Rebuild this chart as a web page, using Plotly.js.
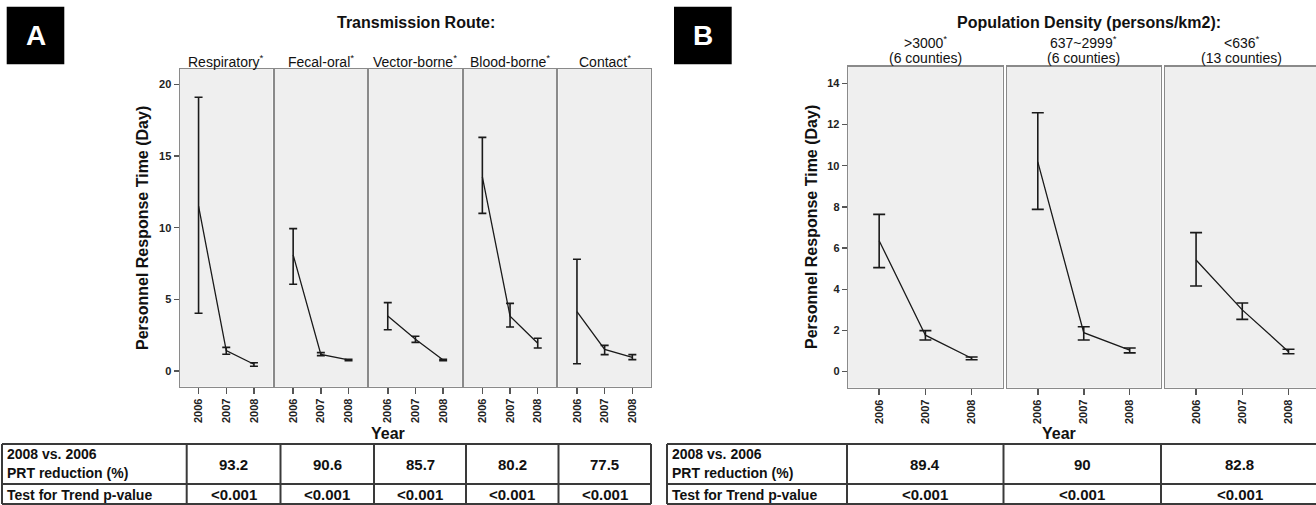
<!DOCTYPE html>
<html>
<head>
<meta charset="utf-8">
<script src="https://cdn.plot.ly/plotly-3.0.1.min.js"></script>
<style>html,body{margin:0;padding:0;background:#fff;overflow:hidden;}#chart{width:1316px;height:505px;}</style>
</head>
<body>
<div id="chart"></div>
<script>
// ---------------- DATA ----------------
const years = ['2006', '2007', '2008'];

// Panel A: transmission route
const routeNames = ['Respiratory', 'Fecal-oral', 'Vector-borne', 'Blood-borne', 'Contact'];
const routeMean  = [[11.5, 1.42, 0.47], [8.1, 1.16, 0.77], [3.83, 2.21, 0.77], [13.55, 3.83, 1.93], [4.14, 1.5, 0.95]];
const routeUpper = [[19.1, 1.65, 0.58], [9.93, 1.28, 0.82], [4.77, 2.42, 0.82], [16.3, 4.72, 2.28], [7.8, 1.79, 1.14]];
const routeLower = [[4.03, 1.17, 0.33], [6.05, 1.07, 0.72], [2.88, 2.0, 0.72], [11.0, 3.07, 1.6], [0.51, 1.14, 0.79]];
const routeReduction = ['93.2', '90.6', '85.7', '80.2', '77.5'];
const routeP = ['<0.001', '<0.001', '<0.001', '<0.001', '<0.001'];
const routeYTicks = [0, 5, 10, 15, 20];

// Panel B: population density
const densityNames = ['>3000', '637~2999', '<636'];
const densityCounties = ['(6 counties)', '(6 counties)', '(13 counties)'];
const densityMean  = [[6.36, 1.77, 0.65], [10.19, 1.89, 1.05], [5.42, 3.0, 0.97]];
const densityUpper = [[7.64, 1.99, 0.71], [12.57, 2.18, 1.15], [6.75, 3.33, 1.09]];
const densityLower = [[5.05, 1.54, 0.58], [7.88, 1.54, 0.91], [4.16, 2.54, 0.87]];
const densityReduction = ['89.4', '90', '82.8'];
const densityP = ['<0.001', '<0.001', '<0.001'];
const densityYTicks = [0, 2, 4, 6, 8, 10, 12, 14];

const rowLabel1a = '2008 vs. 2006';
const rowLabel1b = 'PRT reduction (%)';
const rowLabel2 = 'Test for Trend p-value';
const yTitle = 'Personnel Response Time (Day)';
const xTitle = 'Year';
const titleA = 'Transmission Route:';
const titleB = 'Population Density (persons/km2):';

// ---------------- LAYOUT HELPERS ----------------
const W = 1316, H = 505;
const px = x => x / W;
const py = y => 1 - y / H;
const esc = s => s.replace(/&/g, '&amp;').replace(/</g, '&lt;').replace(/>/g, '&gt;');
const FONT = 'Liberation Sans, Arial, sans-serif';
const LINE = '#8a8a8a';
const TABLE = '#3a3a3a';

const data = [];
const layout = {
  width: W, height: H,
  margin: {l: 0, r: 0, t: 0, b: 0},
  paper_bgcolor: '#ffffff',
  plot_bgcolor: '#efefef',
  showlegend: false,
  font: {family: FONT, color: '#111'},
  shapes: [], annotations: []
};

function addPanel(idx, xl, xr, yt, yb, yrange, xrange, yticks, showY, mean, up, lo, capW) {
  const xn = idx === 1 ? 'xaxis' : 'xaxis' + idx;
  const yn = idx === 1 ? 'yaxis' : 'yaxis' + idx;
  const xr_ = idx === 1 ? 'x' : 'x' + idx;
  const yr_ = idx === 1 ? 'y' : 'y' + idx;
  layout[xn] = {
    domain: [px(xl), px(xr)], anchor: yr_, type: 'category', range: xrange,
    showline: true, mirror: true, linecolor: LINE, linewidth: 1.5,
    showgrid: false, zeroline: false,
    ticks: 'outside', ticklen: 6, tickwidth: 1.5, tickcolor: '#555',
    tickangle: -90, tickfont: {family: FONT, size: 11, weight: 'bold', color: '#222'},
    tickvals: years, ticktext: years
  };
  layout[yn] = {
    domain: [py(yb), py(yt)], anchor: xr_, range: yrange,
    showline: true, mirror: true, linecolor: LINE, linewidth: 1.5,
    showgrid: false, zeroline: false,
    tickvals: yticks, ticktext: yticks.map(String),
    ticks: showY ? 'outside' : '', ticklen: 5, tickwidth: 1.5, tickcolor: '#555',
    showticklabels: showY,
    tickfont: {family: FONT, size: 11, weight: 'bold', color: '#222'}
  };
  data.push({
    type: 'scatter', mode: 'lines', x: years, y: mean, xaxis: xr_, yaxis: yr_,
    line: {color: '#1a1a1a', width: 1.3},
    error_y: {
      type: 'data', symmetric: false,
      array: mean.map((m, i) => up[i] - m),
      arrayminus: mean.map((m, i) => m - lo[i]),
      color: '#1a1a1a', thickness: 1.6, width: capW
    },
    hoverinfo: 'skip'
  });
}

// Panel A subplots
const aLeft = [180, 274.6, 369.2, 463.8, 558.4];
const aW = 92.5;
routeNames.forEach((n, i) => {
  addPanel(i + 1, aLeft[i], aLeft[i] + aW, 69, 386.7, [-1.096, 21.07], [-0.67, 2.67], routeYTicks, i === 0,
    routeMean[i], routeUpper[i], routeLower[i], 4);
  layout.annotations.push({xref: 'paper', yref: 'paper', x: px(aLeft[i] + aW / 2), y: py(61),
    text: esc(n) + '<sup>*</sup>', showarrow: false, xanchor: 'center', yanchor: 'middle',
    font: {family: FONT, size: 14, color: '#111'}});
});

// Panel B subplots
const bLeft = [848.2, 1007, 1165.1];
const bRight = [1002.6, 1160.5, 1316];
densityNames.forEach((n, i) => {
  const xrange = i === 2 ? [-0.67, 2.595] : [-0.67, 2.67];
  addPanel(6 + i, bLeft[i], bRight[i], 66.7, 387.7, [-0.78, 14.81], xrange, densityYTicks, i === 0,
    densityMean[i], densityUpper[i], densityLower[i], 6);
  const cx = i === 2 ? 1241.5 : (bLeft[i] + bRight[i]) / 2;
  layout.annotations.push({xref: 'paper', yref: 'paper', x: px(cx), y: py(42),
    text: esc(n) + '<sup>*</sup>', showarrow: false, xanchor: 'center', yanchor: 'middle',
    font: {family: FONT, size: 14, color: '#111'}});
  layout.annotations.push({xref: 'paper', yref: 'paper', x: px(cx), y: py(58.5),
    text: densityCounties[i], showarrow: false, xanchor: 'center', yanchor: 'middle',
    font: {family: FONT, size: 14, color: '#111'}});
});

// Titles and letter boxes
function ann(x, y, text, opts) {
  layout.annotations.push(Object.assign({xref: 'paper', yref: 'paper', x: px(x), y: py(y), text: text,
    showarrow: false, xanchor: 'center', yanchor: 'middle',
    font: {family: FONT, size: 16, weight: 'bold', color: '#111'}}, opts || {}));
}
ann(416, 22, titleA);
ann(1089, 22, titleB);
ann(143, 228, yTitle, {textangle: -90});
ann(812, 227, yTitle, {textangle: -90});
ann(388, 433, xTitle);
ann(1059, 433, xTitle);

layout.shapes.push({type: 'rect', xref: 'paper', yref: 'paper', x0: px(6.7), x1: px(64.3), y0: py(64.3), y1: py(6.7),
  fillcolor: '#000', line: {width: 0}});
layout.shapes.push({type: 'rect', xref: 'paper', yref: 'paper', x0: px(674), x1: px(731.7), y0: py(64.3), y1: py(6.7),
  fillcolor: '#000', line: {width: 0}});
ann(35.5, 36, 'A', {font: {family: FONT, size: 28, weight: 'bold', color: '#fff'}});
ann(703, 36, 'B', {font: {family: FONT, size: 28, weight: 'bold', color: '#fff'}});

// Tables
function table(x0, x1, bounds, values, pvals) {
  const yTop = 444, yMid = 484, yBot = 504;
  const L = (xa, ya, xb, yb) => layout.shapes.push({type: 'line', xref: 'paper', yref: 'paper',
    x0: px(xa), y0: py(ya), x1: px(xb), y1: py(yb), line: {color: TABLE, width: 2}});
  L(x0, yTop, x1, yTop); L(x0, yMid, x1, yMid); L(x0, yBot, x1, yBot);
  L(x0, yTop, x0, yBot); L(x1, yTop, x1, yBot);
  bounds.forEach(b => L(b, yTop, b, yBot));
  const tf = {family: FONT, size: 14, weight: 'bold', color: '#111'};
  ann(x0 + 3, 453.5, rowLabel1a, {xanchor: 'left', font: tf});
  ann(x0 + 3, 473, rowLabel1b, {xanchor: 'left', font: tf});
  ann(x0 + 3, 494.5, rowLabel2, {xanchor: 'left', font: tf});
  const edges = bounds.concat([x1]);
  values.forEach((v, i) => {
    const cx = (edges[i] + edges[i + 1]) / 2;
    ann(cx, 464, esc(v), {font: {family: FONT, size: 15, weight: 'bold', color: '#111'}});
    ann(cx, 494.5, esc(pvals[i]), {font: {family: FONT, size: 15, weight: 'bold', color: '#111'}});
  });
}
table(2, 651, [186.7, 280.5, 374, 466, 558.5], routeReduction, routeP);
table(667, 1318, [847, 1003.5, 1161], densityReduction, densityP);

Plotly.newPlot('chart', data, layout, {staticPlot: true, displayModeBar: false});
</script>
</body>
</html>
